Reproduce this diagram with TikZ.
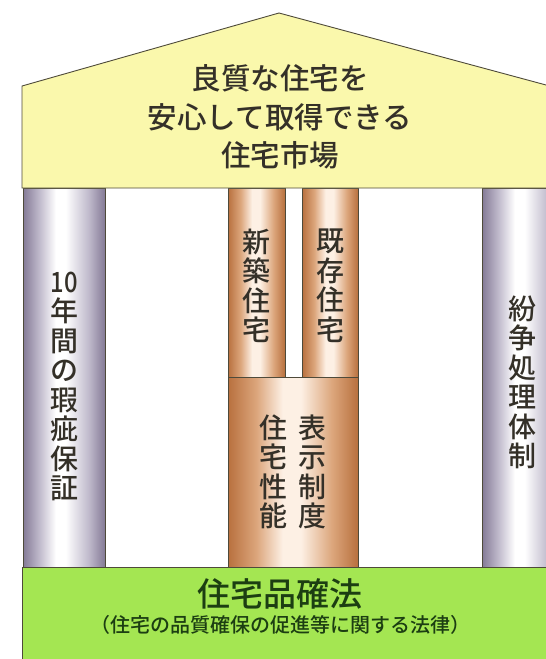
\documentclass[tikz,border=0pt]{standalone}
\usepackage{fontspec}
\usepackage{tikz}
\usetikzlibrary{positioning, calc}
\newfontfamily\jpfont[UprightFont={* Medium}]{Noto Sans CJK JP}
\definecolor{roofyellow}{RGB}{250, 248, 172}
\definecolor{basegreen}{RGB}{164, 230, 82}
\definecolor{pillargray}{RGB}{132, 122, 150}
\definecolor{graymid}{RGB}{192, 186, 204}
\definecolor{pillarbrown}{RGB}{184, 112, 62}
\definecolor{brownmid}{RGB}{220, 166, 124}
\definecolor{brownlight}{RGB}{253, 240, 228}
\definecolor{edgeline}{RGB}{78, 74, 58}
\definecolor{textdark}{RGB}{52, 48, 40}
\definecolor{textgreen}{RGB}{28, 62, 18}
% stops between 25bp and 75bp span the shape
\pgfdeclarehorizontalshading{grayshade}{100bp}{color(0bp)=(pillargray);
    color(25bp)=(pillargray); color(35bp)=(graymid); color(45bp)=(white);
    color(51bp)=(white); color(65bp)=(graymid); color(75bp)=(pillargray);
    color(100bp)=(pillargray)}
\pgfdeclarehorizontalshading{brownshade}{100bp}{color(0bp)=(pillarbrown);
    color(25bp)=(pillarbrown); color(36bp)=(brownmid); color(46bp)=(brownlight);
    color(53bp)=(brownlight); color(65bp)=(brownmid); color(75bp)=(pillarbrown);
    color(100bp)=(pillarbrown)}
\tikzset{
    graypillar/.style={
        draw=edgeline, line width=0.9pt, inner sep=0pt, shading=grayshade
    },
    brownpillar/.style={
        draw=edgeline, line width=0.9pt, inner sep=0pt, shading=brownshade
    },
    vtext/.style={
        align=center, inner sep=0pt, text=textdark,
        font=\jpfont\fontsize{28}{29.5}\selectfont
    }
}

\begin{document}
\begin{tikzpicture}[
        x=1pt, y=-1pt,
        % --- STYLE ---
        roofline/.style={draw=edgeline, line width=0.9pt, fill=roofyellow},
        basebox/.style={
            draw=edgeline, line width=0.9pt, fill=basegreen,
            inner sep=0pt, anchor=north west
        }
    ]
        \useasboundingbox (0,0) rectangle (546,659);
        \clip (0,0) rectangle (546,659);

        % --- 1. CỘT ---
        \node[graypillar, minimum width=82, minimum height=379] (lpillar) at (64,377.5) {};
        \node[graypillar, minimum width=82, minimum height=379] (rpillar) at (523,377.5) {};
        \node[brownpillar, minimum width=57, minimum height=189] (newpillar) at (256.5,282.5) {};
        \node[brownpillar, minimum width=56, minimum height=189] (oldpillar) at (330,282.5) {};
        \node[brownpillar, minimum width=130, minimum height=190] (perfblock) at (293,472) {};

        % --- 2. MÁI VÀ NỀN ---
        \draw[roofline] (22,188) -- (22,86) -- (279,13) -- (572,92) -- (572,188) -- cycle;
        \node[basebox, minimum width=550, minimum height=100] (base) at (22,567) {};

        % --- 3. CHỮ ---
        \node[align=center, inner sep=0pt, text=textdark,
              font=\jpfont\fontsize{29.5}{38.5}\selectfont] (rooftext) at (280,117)
            {良質な住宅を\\安心して取得できる\\住宅市場};

        \node[vtext] (ltext) at ($(lpillar)+(0,9)$)
            {\scalebox{0.85}[1]{10}\\年\\間\\の\\瑕\\疵\\保\\証};
        \node[vtext] (rtext) at ($(rpillar)+(-1,5)$)
            {紛\\争\\処\\理\\体\\制};
        \node[vtext] (newtext) at ($(newpillar)+(0,3.5)$) {新\\築\\住\\宅};
        \node[vtext] (oldtext) at ($(oldpillar)+(0,3.5)$) {既\\存\\住\\宅};
        \node[vtext] (perftext) at ($(perfblock)+(-20,0)$) {住\\宅\\性\\能};
        \node[vtext] (disptext) at ($(perfblock)+(19,0)$) {表\\示\\制\\度};

        \node[inner sep=0pt, text=textgreen,
              font=\jpfont\fontsize{33}{36}\selectfont] (lawname) at (280,594) {住宅品確法};
        \node[below=6pt of lawname, inner sep=0pt, text=textgreen,
              font=\jpfont\fontsize{20}{22}\selectfont] (lawfull)
            {（住宅の品質確保の促進等に関する法律）};

    \end{tikzpicture}
\end{document}
